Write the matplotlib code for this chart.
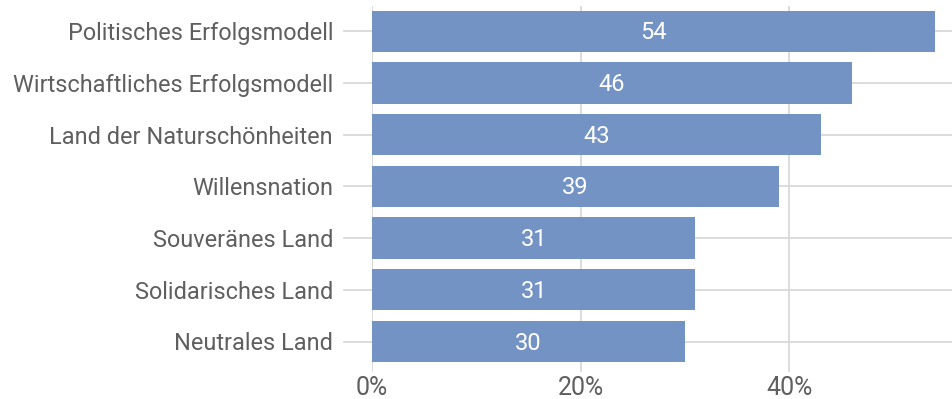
import matplotlib
matplotlib.use("Agg")
import matplotlib.pyplot as plt

categories = [
    "Politisches Erfolgsmodell",
    "Wirtschaftliches Erfolgsmodell",
    "Land der Naturschönheiten",
    "Willensnation",
    "Souveränes Land",
    "Solidarisches Land",
    "Neutrales Land",
]
values = [54, 46, 43, 39, 31, 31, 30]
xticks = [0, 20, 40]
xtick_labels = ["0%", "20%", "40%"]

bar_color = "#7393C4"
grid_color = "#D9D9D9"
text_color = "#5F5F5F"

plt.rcParams["font.family"] = ["Roboto", "DejaVu Sans"]

fig = plt.figure(figsize=(9.52, 3.99), dpi=100)
ax = fig.add_axes([372 / 952, 1 - 372 / 399, 1 - 372 / 952, (372 - 6) / 399])

ypos = list(range(len(categories)))
ax.barh(ypos, values, height=0.8, color=bar_color, zorder=3)

for y, v in zip(ypos, values):
    ax.text(v / 2, y + 0.03, str(v), ha="center", va="center", color="white",
            fontsize=17, zorder=4)

ax.set_xlim(0, 55.6)
ax.set_ylim(len(categories) - 1 + 0.59, -0.49)

ax.set_xticks(xticks)
ax.set_xticklabels(xtick_labels)
ax.set_yticks(ypos)
ax.set_yticklabels(categories)

# horizontal lines through each category, extending left as tick marks
for y in ypos:
    ax.axhline(y, color=grid_color, lw=1.3, zorder=1)
    ax.plot([-2.7, 0], [y, y], color=grid_color, lw=1.3, clip_on=False, zorder=1)
for x in xticks:
    ax.axvline(x, color=grid_color, lw=1.3, zorder=1)

ax.tick_params(axis="y", length=0, pad=28, labelsize=16.9, labelcolor=text_color)
ax.tick_params(axis="x", length=0, pad=3, labelsize=18, labelcolor=text_color)
for s in ax.spines.values():
    s.set_visible(False)

fig.savefig("out.png", dpi=100)
